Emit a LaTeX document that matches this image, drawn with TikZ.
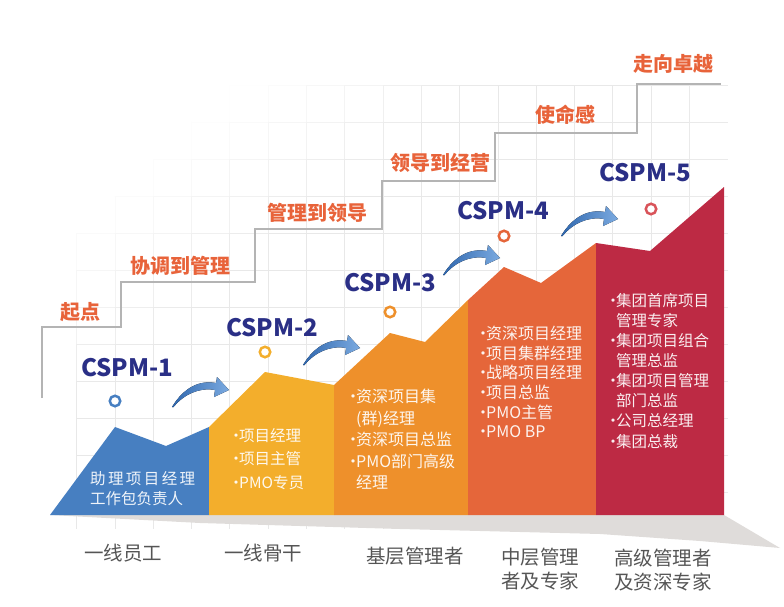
\documentclass[tikz,border=0pt]{standalone}
\usepackage{fontspec}
\setmainfont{Noto Sans CJK SC}
\usepackage{xcolor}
\usepackage{tikz}
\usetikzlibrary{positioning}
\definecolor{stairgray}{HTML}{B4B4B4}
\definecolor{stepred}{HTML}{E8633A}
\definecolor{navy}{HTML}{2A2F86}
\definecolor{blk1}{HTML}{477FC1}
\definecolor{blk2}{HTML}{F3AE2C}
\definecolor{blk3}{HTML}{EE902B}
\definecolor{blk4}{HTML}{E5663A}
\definecolor{blk5}{HTML}{BD2A44}
\definecolor{ring5}{HTML}{D9545A}
\definecolor{rankgray}{HTML}{555555}
\definecolor{floor}{HTML}{DFDCDA}
\definecolor{arrowdark}{HTML}{2F67AE}
\definecolor{arrowlight}{HTML}{7BAAE0}
\tikzset{stairtxt/.style={text=stepred,font=\bfseries\fontsize{20}{20}\selectfont},
  level/.style={text=navy,font=\bfseries\fontsize{24}{24}\selectfont},
  ring/.style={circle,draw,line width=2.5pt,fill=white,minimum size=10.5pt,inner sep=0pt},
  duty/.style={text=white,text opacity=0.92,anchor=north west,align=left,inner sep=0pt},
  rank/.style={text=rankgray,align=center,font=\fontsize{19.5}{24}\selectfont},
  rise/.pic={\fill[left color=arrowdark,right color=arrowlight]
    (0,0) .. controls (12,-20) and (28,-27) .. (44,-24) -- (45,-30) -- (57,-17) -- (42,-10)
    -- (43,-17) .. controls (27,-20) and (11,-12) .. (1.5,0) -- cycle;}}
\newcommand{\dotmark}{\makebox[6pt][c]{·}}
\newcommand{\bulletgap}{\hspace*{6pt}}

\begin{document}
\begin{tikzpicture}[x=1pt,y=-1pt]
        \useasboundingbox (0,0) rectangle (784,607);
        % grid, fading out to the upper left and to the right
        \foreach \gx in {76.6,114.9,...,710} {
          \foreach \gy in {85,122,...,495} {
            \pgfmathsetmacro\gridtone{9*max(0,min(1,min((\gx+1.3*\gy-330)/250,(745-\gx)/60)))}
            \draw[black!\gridtone,line width=0.8] (\gx,\gy) -- ++(38.3,0);
            \draw[black!\gridtone,line width=0.8] (\gx,\gy) -- ++(0,37);
          }
        }

        % stairs
        \draw[stairgray,line width=2] (42,398) -- (42,327) -- (121,327) -- (121,282) -- (255,282) -- (255,229)
          -- (382,229) -- (382,181) -- (495,181) -- (495,133) -- (637,133) -- (637,84) -- (721,84);
        \node[stairtxt] (s1) at (80,312) {起点};
        \node[stairtxt] (s2) at (180,266) {协调到管理};
        \node[stairtxt] (s3) at (317,213) {管理到领导};
        \node[stairtxt] (s4) at (440,163) {领导到经营};
        \node[stairtxt] (s5) at (565,115) {使命感};
        \node[stairtxt] (s6) at (673,64) {走向卓越};

        % floor and blocks
        \fill[floor] (50,515) -- (724,515) -- (780,548) -- (700,541) -- (600,534) -- (400,529) -- (200,523) -- cycle;
        \fill[blk1] (50,515) -- (115,427) -- (166,446) -- (209,427) -- (209,515) -- cycle;
        \fill[blk2] (209,427) -- (265,372) -- (334,385) -- (334,515) -- (209,515) -- cycle;
        \fill[blk3] (334,385) -- (390,333) -- (425,342) -- (468,300) -- (468,515) -- (334,515) -- cycle;
        \fill[blk4] (468,300) -- (504,267) -- (541,283) -- (596,243) -- (596,515) -- (468,515) -- cycle;
        \fill[blk5] (596,243) -- (650,251) -- (724,187) -- (724,515) -- (596,515) -- cycle;

        \node[level] (l1) at (127,368) {CSPM-1};
        \node[level] (l2) at (272,328) {CSPM-2};
        \node[level] (l3) at (390,283) {CSPM-3};
        \node[level] (l4) at (503,211) {CSPM-4};
        \node[level] (l5) at (645,173) {CSPM-5};
        \node[ring,draw=blk1] (r1) at (115,401) {};
        \node[ring,draw=blk2] (r2) at (265,352) {};
        \node[ring,draw=blk3] (r3) at (390,312) {};
        \node[ring,draw=blk4] (r4) at (504,236) {};
        \node[ring,draw=ring5] (r5) at (651,209) {};

        \coordinate (a1) at (172,407);
        \coordinate (a2) at (303,365);
        \coordinate (a3) at (443,275);
        \coordinate (a4) at (561,236);
        \pic at (a1) {rise};
        \pic at (a2) {rise};
        \pic at (a3) {rise};
        \pic at (a4) {rise};

        \node[duty,font=\fontsize{15.5}{20}\selectfont] (d1) at (90,471)
          {\makebox[105pt][l]{助\hfill 理\hfill 项\hfill 目\hfill 经\hfill 理}\\工作包负责人};
        \node[duty,font=\fontsize{15.5}{23.5}\selectfont] (d2) at (233,428)
          {\dotmark 项目经理\\\dotmark 项目主管\\\dotmark PMO专员};
        \node[duty,font=\fontsize{16}{21.5}\selectfont] (d3) at (350,389)
          {\dotmark 资深项目集\\\bulletgap(群)经理\\\dotmark 资深项目总监\\\dotmark PMO部门高级\\\bulletgap 经理};
        \node[duty,font=\fontsize{16}{19.6}\selectfont] (d4) at (480,326)
          {\dotmark 资深项目经理\\\dotmark 项目集群经理\\\dotmark 战略项目经理\\\dotmark 项目总监\\\dotmark PMO主管\\\dotmark PMO BP};
        \node[duty,font=\fontsize{15.5}{20.1}\selectfont] (d5) at (610,293)
          {\dotmark 集团首席项目\\\bulletgap 管理专家\\\dotmark 集团项目组合\\\bulletgap 管理总监\\\dotmark 集团项目管理\\\bulletgap 部门总监\\\dotmark 公司总经理\\\dotmark 集团总裁};

        \node[rank] (k1) at (123,553) {一线员工};
        \node[rank] (k2) at (263,553) {一线骨干};
        \node[rank] (k3) at (415,556) {基层管理者};
        \node[rank] (k4) at (540,569) {中层管理\\者及专家};
        \node[rank] (k5) at (663,570) {高级管理者\\及资深专家};
    \end{tikzpicture}
\end{document}
